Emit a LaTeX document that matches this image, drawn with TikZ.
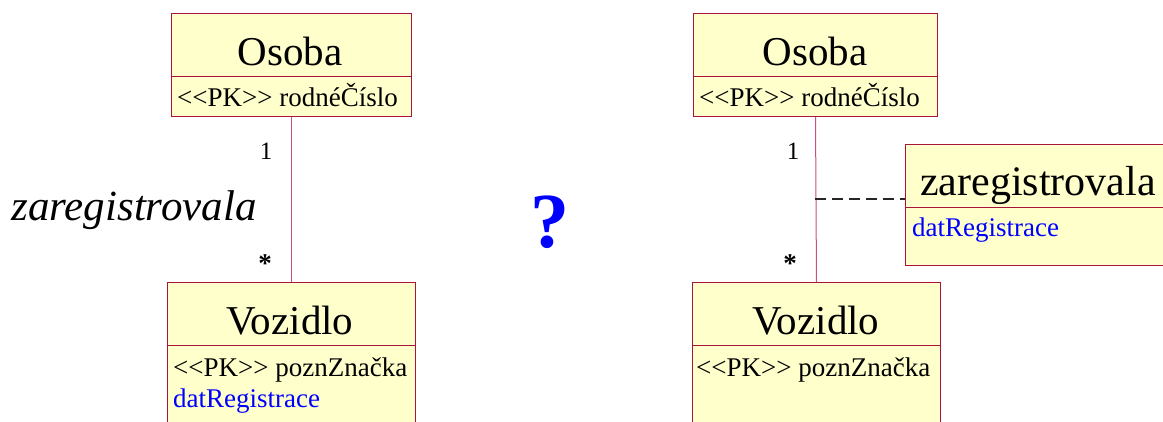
\documentclass[tikz,border=0pt]{standalone}
\usepackage{fontspec}
\setmainfont{Liberation Serif}
\definecolor{boxfill}{RGB}{255,255,204}
\definecolor{boxline}{RGB}{170,20,60}
\definecolor{assocline}{RGB}{200,80,130}
\definecolor{attrblue}{RGB}{0,0,255}
\tikzset{
  classbox/.style={draw=boxline, fill=boxfill, line width=1pt, rectangle, inner sep=0pt, anchor=north west},
  titletext/.style={font=\fontsize{41}{45}\selectfont, anchor=base, inner sep=0pt},
  attrtext/.style={font=\fontsize{27}{30}\selectfont, anchor=base west, inner sep=0pt},
  multtext/.style={font=\fontsize{25}{28}\selectfont, anchor=base, inner sep=0pt},
  startext/.style={font=\fontsize{27}{28}\selectfont\bfseries, anchor=base, inner sep=0pt},
  assoc/.style={draw=assocline, line width=1pt},
  sepline/.style={draw=boxline, line width=1pt}
}
\newcommand{\pkmark}{<{}<PK>{}>}
\begin{document}
\begin{tikzpicture}[x=1pt,y=-1pt]
\useasboundingbox (0,0) rectangle (1163,421);
\clip (0,0) rectangle (1163,421);
% ---------- left diagram ----------
\node[classbox, minimum width=240pt, minimum height=103pt] (osobaL) at (171,13) {};
\draw[sepline] (171,76) -- (411,76);
\node[titletext] (osobaLt) at (290,65) {Osoba};
\node[attrtext] (osobaLa) at (177,106) {\pkmark{} rodnéČíslo};

\node[classbox, minimum width=248pt, minimum height=160pt] (vozL) at (167,282) {};
\draw[sepline] (167,345) -- (415,345);
\node[titletext] (vozLt) at (290,334) {Vozidlo};
\node[attrtext] (vozLa) at (173,376) {\pkmark{} poznZnačka};
\node[attrtext, text=attrblue] (vozLb) at (173,407) {datRegistrace};

\draw[assoc] (osobaL.south) -- (vozL.north);
\node[multtext] (oneL) at (266,159) {1};
\node[startext] (starL) at (265,272) {*};
\node[font=\fontsize{43}{46}\selectfont\itshape, anchor=base, inner sep=0pt] (nameL) at (134,220) {zaregistrovala};

% ---------- question mark ----------
\node[font=\fontsize{78}{80}\selectfont\bfseries, text=attrblue, anchor=base, inner sep=0pt] (qm) at (550,247) {?};

% ---------- right diagram ----------
\node[classbox, minimum width=244pt, minimum height=103pt] (osobaR) at (693,13) {};
\draw[sepline] (693,76) -- (937,76);
\node[titletext] (osobaRt) at (815,65) {Osoba};
\node[attrtext] (osobaRa) at (699,106) {\pkmark{} rodnéČíslo};

\node[classbox, minimum width=248pt, minimum height=160pt] (vozR) at (692,282) {};
\draw[sepline] (692,345) -- (940,345);
\node[titletext] (vozRt) at (816,334) {Vozidlo};
\node[attrtext] (vozRa) at (696,376) {\pkmark{} poznZnačka};

\draw[assoc] (osobaR.south) -- (vozR.north);
\node[multtext] (oneR) at (793,159) {1};
\node[startext] (starR) at (790,272) {*};

\node[classbox, minimum width=270pt, minimum height=121pt] (regC) at (905,144) {};
\draw[sepline] (905,207) -- (1175,207);
\node[titletext, font=\fontsize{42}{45}\selectfont, anchor=base west] (regCt) at (920,195) {zaregistrovala};
\node[attrtext, text=attrblue] (regCa) at (912,236) {datRegistrace};

\coordinate (dashStart) at (815,199);
\draw[black!85, line width=1.4pt, dash pattern=on 11pt off 6pt] (dashStart) -- (dashStart -| regC.west);
\end{tikzpicture}
\end{document}
